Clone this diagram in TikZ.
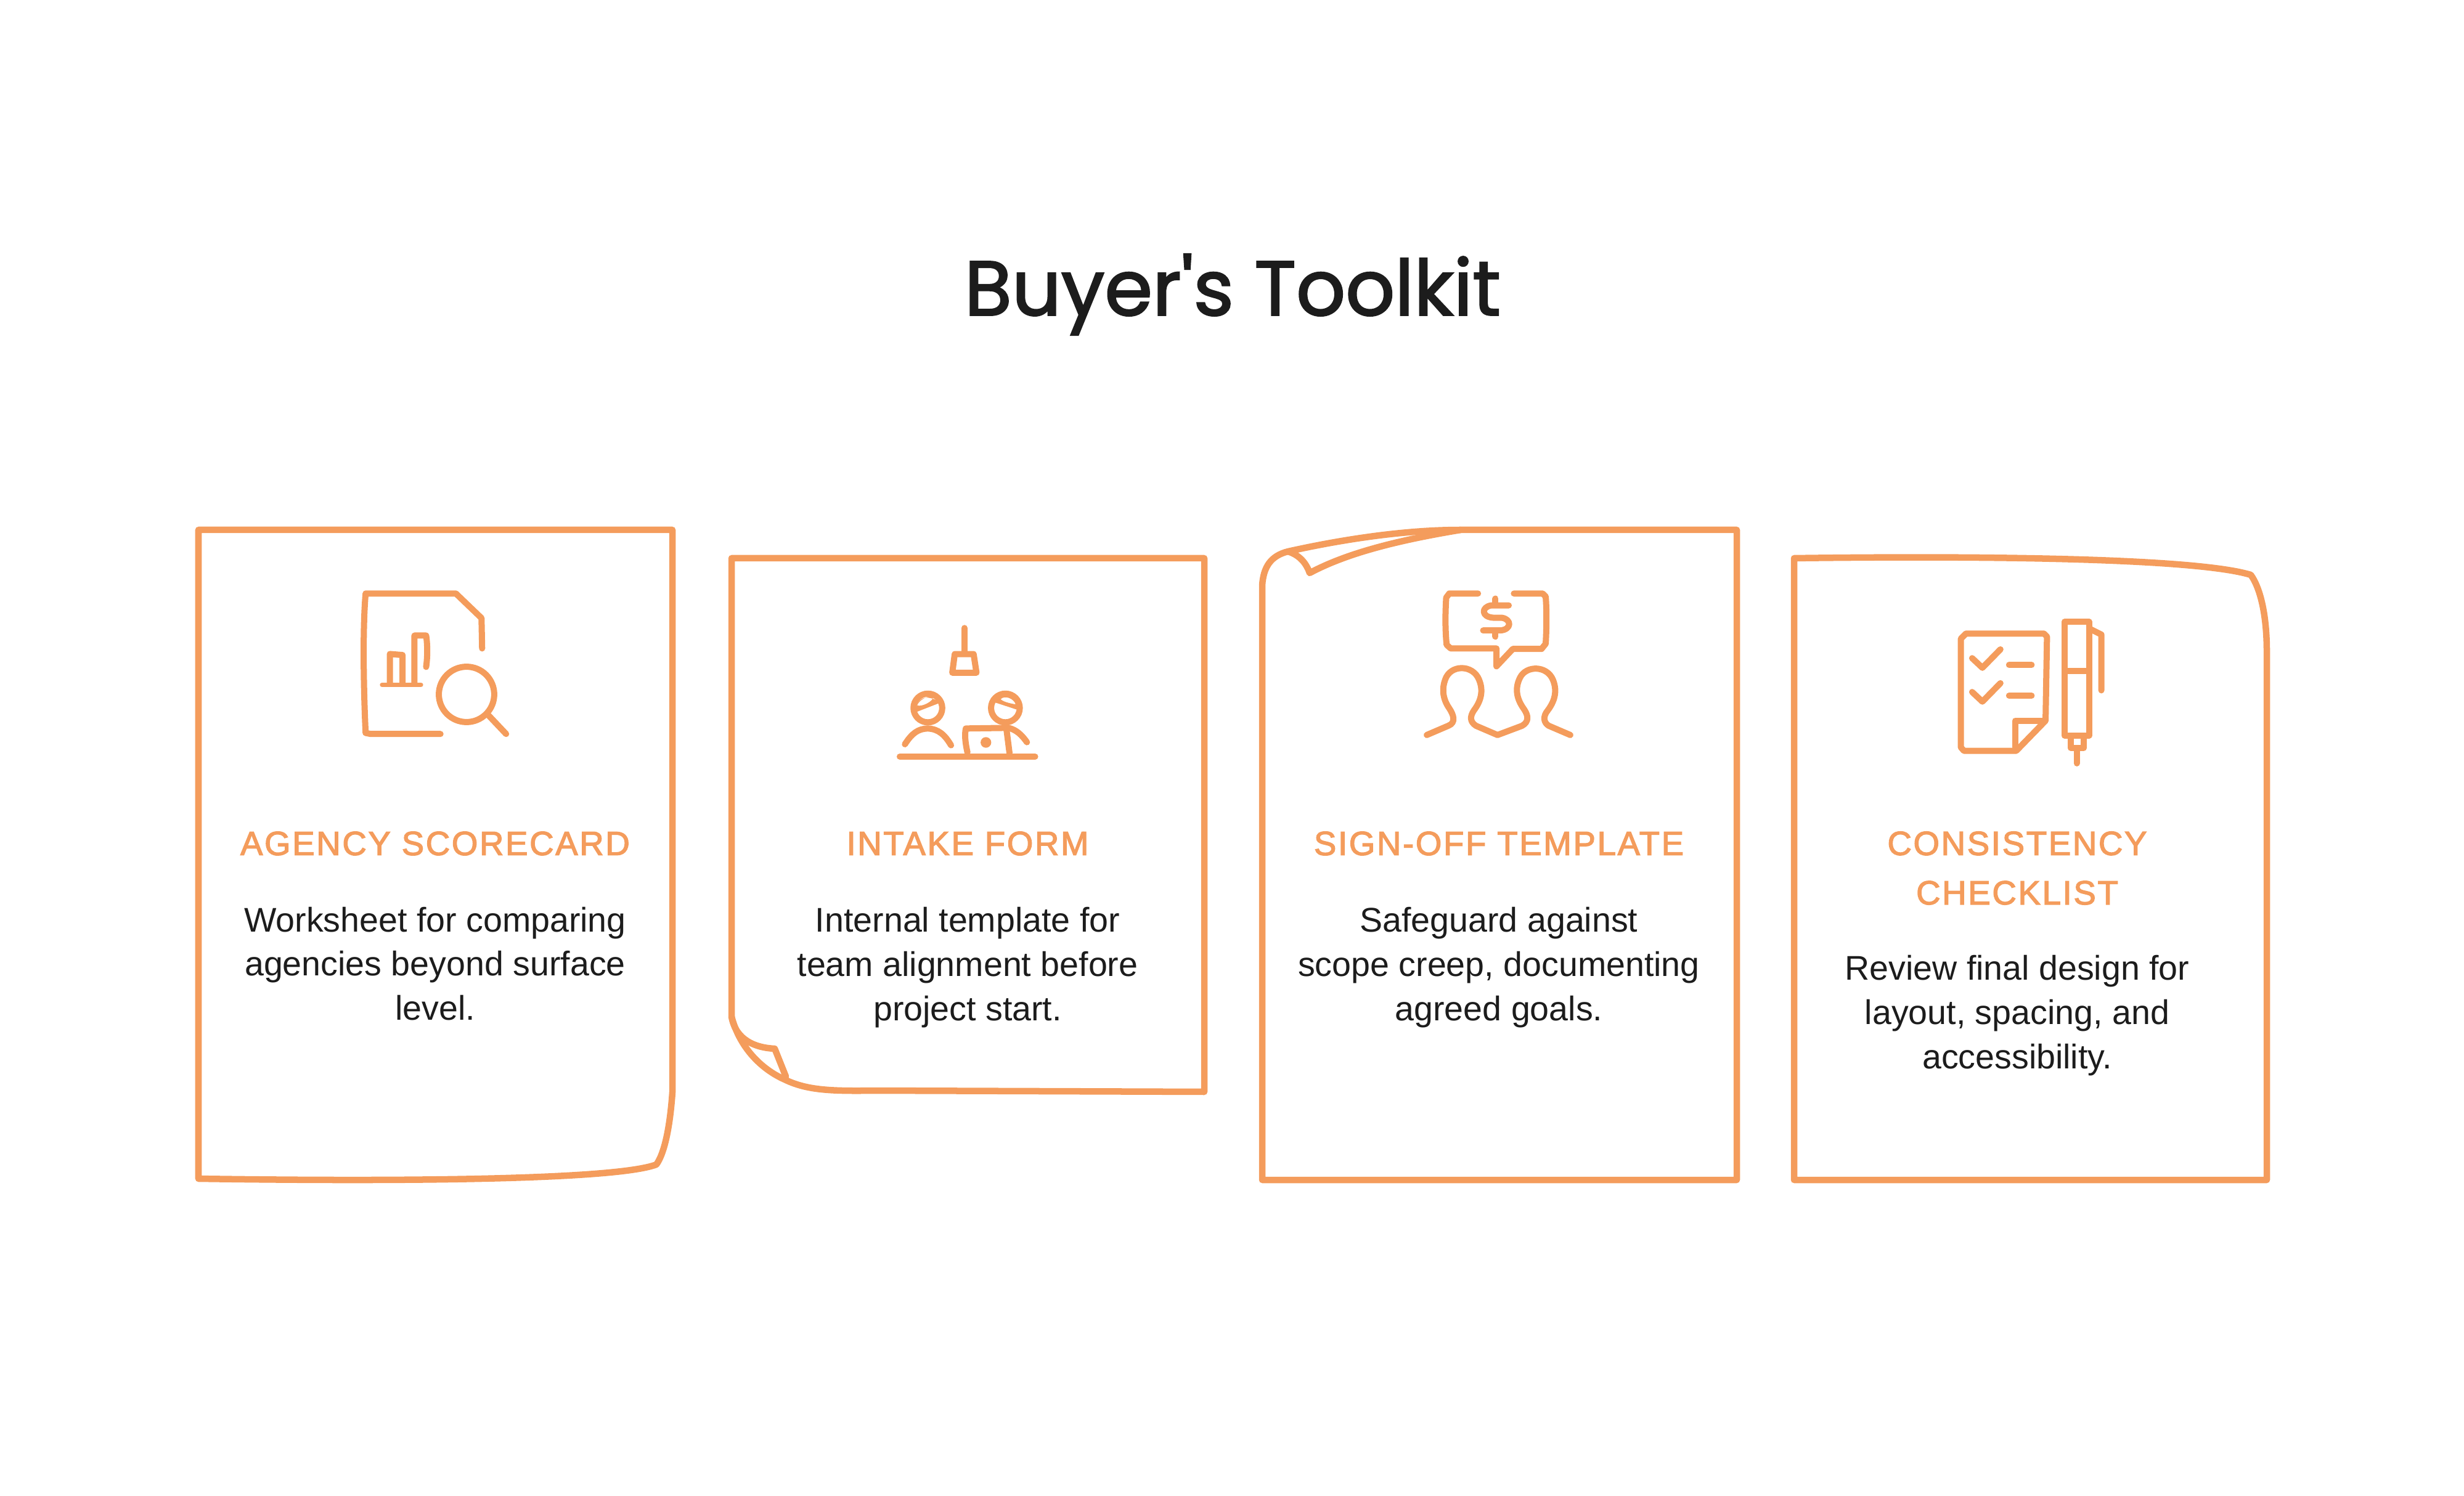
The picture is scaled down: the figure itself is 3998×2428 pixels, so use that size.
\documentclass[tikz,border=0pt]{standalone}
\usepackage{fontspec}
\setmainfont{Liberation Sans}
\newfontfamily\titlefont[FakeBold=2]{Poppins}
\newfontfamily\headfont[LetterSpace=5,FakeBold=2.5]{Liberation Sans}
\definecolor{toolorange}{HTML}{F49C5C}
\definecolor{toolink}{HTML}{1C1C1C}
\tikzset{
  cardline/.style={draw=toolorange,line width=0.105cm,line join=round,line cap=round},
  iconline/.style={draw=toolorange,line width=0.1cm,line join=round,line cap=round},
  iconthin/.style={iconline,line width=0.07cm},
  iconfill/.style={fill=toolorange,even odd rule},
  zoomed/.style n args={2}{shift={(#1,#2)},x=0.0033333cm,y=-0.0033333cm},
  cardhead/.style={text=toolorange,align=center,font=\headfont\fontsize{15.5pt}{22.8pt}\selectfont,inner sep=0pt},
  cardbody/.style={text=toolink,align=center,font=\fontsize{15.8pt}{20.4pt}\selectfont,inner sep=0pt}
}
\begin{document}
\begin{tikzpicture}[x=0.01cm,y=-0.01cm]
\useasboundingbox (0,0) rectangle (3998,2428);
\node[text=toolink,inner sep=0pt,font=\titlefont\fontsize{35.6pt}{44pt}\selectfont] (title) at (2000,478) {Buyer's Toolkit};
\draw[cardline] (322,860) -- (1091,860) -- (1091,1773) .. controls (1087,1830) and (1078,1872) .. (1065,1890) .. controls (1000,1915) and (650,1918) .. (322,1913) -- cycle;
\draw[cardline] (1187,906) -- (1954,906) -- (1954,1772) -- (1420,1770) .. controls (1350,1771) and (1310,1770) .. (1273,1752) .. controls (1235,1735) and (1200,1700) .. (1187,1650) -- cycle;
\draw[cardline] (1187,1650) .. controls (1192,1680) and (1215,1700) .. (1257,1702) -- (1275,1747);
\draw[cardline] (2048,1915) -- (2048,950) .. controls (2050,920) and (2062,902) .. (2090,895) .. controls (2180,875) and (2280,860) .. (2370,860) -- (2818,860) -- (2818,1915) -- cycle;
\draw[cardline] (2090,895) .. controls (2105,900) and (2118,910) .. (2125,930) .. controls (2190,895) and (2280,875) .. (2370,860);
\draw[cardline] (2911,1915) -- (2911,906) .. controls (3200,902) and (3560,905) .. (3652,933) .. controls (3668,955) and (3678,1000) .. (3678,1057) -- (3678,1915) -- cycle;
\begin{scope}[zoomed={540}{920}]
\draw[iconline] (525,815) -- (185,815) -- (160,810) .. controls (150,600) and (145,300) .. (160,130) -- (600,130) -- (725,250) -- (728,398);
\draw[iconthin] (240,575) -- (430,575);
\draw[iconline] (278,570) -- (278,425) -- (340,430) -- (340,570);
\draw[iconline] (398,570) -- (398,335) -- (455,335) .. controls (462,380) and (462,440) .. (455,488);
\draw[iconline] (652,622) circle[radius=135];
\draw[iconline] (760,725) -- (845,815);
\end{scope}
\begin{scope}[zoomed={1420}{980}]
\draw[iconline] (435,118) -- (435,240);
\draw[iconline] (388,245) -- (480,245) -- (494,336) -- (376,336) -- cycle;
\draw[iconline] (257,508) circle[radius=70];
\draw[iconline] (635,508) circle[radius=70];
\fill[iconfill] (200,528) .. controls (195,460) and (250,435) .. (318,482) -- cycle (205,495) .. controls (215,465) and (265,445) .. (282,455) .. controls (285,475) and (225,505) .. (205,495);
\fill[iconfill] (575,478) .. controls (610,430) and (690,440) .. (697,518) -- cycle (612,465) .. controls (630,445) and (675,460) .. (685,490) .. controls (650,485) and (620,475) .. (612,465);
\draw[iconline] (145,685) .. controls (180,630) and (210,610) .. (255,608) .. controls (310,610) and (340,640) .. (370,690);
\draw[iconline] (450,725) .. controls (440,680) and (435,640) .. (442,608) -- (650,605) .. controls (690,615) and (715,640) .. (740,675);
\draw[iconline] (640,610) -- (655,728);
\fill[toolorange] (540,676) circle[radius=26];
\draw[iconline] (120,745) -- (780,745);
\end{scope}
\begin{scope}[zoomed={2280}{930}]
\draw[iconline] (355,100) -- (215,100) -- (200,120) .. controls (195,200) and (195,280) .. (202,350) -- (222,368) -- (445,368) -- (445,455) -- (525,370) -- (665,370) -- (685,345) .. controls (690,260) and (690,180) .. (685,115) -- (670,100) -- (530,100);
\draw[iconline] (505,158) -- (420,158) .. controls (370,165) and (370,215) .. (430,218) -- (470,218) .. controls (520,225) and (520,275) .. (465,280) -- (380,280);
\draw[iconline] (440,125) -- (440,150);
\draw[iconline] (440,290) -- (440,310);
\draw[iconline] (105,790) -- (210,745) .. controls (250,730) and (235,690) .. (215,660) .. controls (180,610) and (180,560) .. (195,520) .. controls (220,445) and (330,445) .. (360,520) .. controls (385,580) and (365,630) .. (335,670) .. controls (315,700) and (315,725) .. (345,745) -- (450,790) -- (570,745) .. controls (605,725) and (600,695) .. (580,665) .. controls (540,610) and (535,560) .. (560,510) .. controls (590,450) and (690,450) .. (720,520) .. controls (745,580) and (725,630) .. (695,670) .. controls (670,700) and (675,730) .. (700,745) -- (805,790);
\end{scope}
\begin{scope}[zoomed={3140}{980}]
\draw[iconline] (395,717) -- (140,717) -- (125,700) -- (125,170) -- (150,145) -- (530,145) -- (545,160) -- (538,570) -- cycle;
\draw[iconline] (390,700) -- (390,570) -- (535,570);
\draw[iconline] (180,265) -- (230,312) -- (318,222);
\draw[iconline] (180,430) -- (230,477) -- (318,387);
\draw[iconline] (360,298) -- (470,298);
\draw[iconline] (360,448) -- (470,448);
\draw[iconline] (630,88) -- (750,88) -- (750,642) -- (630,642) -- cycle;
\draw[iconline] (640,328) -- (750,328);
\draw[iconline] (660,650) -- (660,702) -- (725,702) -- (725,650);
\draw[iconline] (690,710) -- (690,778);
\draw[iconline] (760,125) -- (810,150) -- (810,422);
\end{scope}
\node[cardhead] (head1) at (706,1369) {AGENCY SCORECARD};
\node[cardbody] (body1) at (706,1564) {Worksheet for comparing\\agencies beyond surface\\level.};
\node[cardhead] (head2) at (1570,1369) {INTAKE FORM};
\node[cardbody] (body2) at (1570,1570) {Internal template for\\team alignment before\\project start.};
\node[cardhead] (head3) at (2432,1369) {SIGN-OFF TEMPLATE};
\node[cardbody] (body3) at (2432,1570) {Safeguard against\\scope creep, documenting\\agreed goals.};
\node[cardhead] (head4) at (3273,1409) {CONSISTENCY\\CHECKLIST};
\node[cardbody] (body4) at (3273,1648) {Review final design for\\layout, spacing, and\\accessibility.};
\end{tikzpicture}
\end{document}
